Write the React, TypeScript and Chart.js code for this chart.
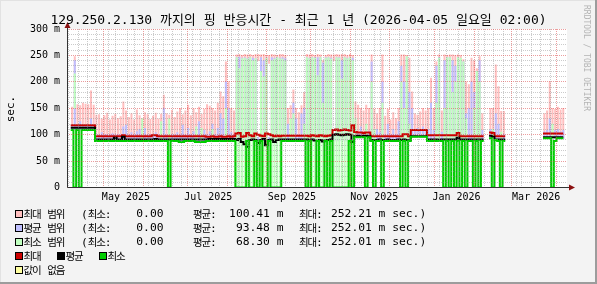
import React, { useEffect, useRef } from 'react';
import { Chart, registerables } from 'chart.js';

Chart.register(...registerables);

// ---- time axis: days since 2025-04-05 02:00 (1 year window), data in 2-day bins ----
const SPAN_DAYS = 365;
const BIN_DAYS = 2;
const HOUR_SHIFT = 2 / 24;

const monthStartDays = [26, 57, 87, 118, 149, 179, 210, 240, 271, 302, 330, 361];
const labelStartDays = [26, 87, 149, 210, 271, 330];
const monthLabels = ['May 2025', 'Jul 2025', 'Sep 2025', 'Nov 2025', 'Jan 2026', 'Mar 2026'];
const firstMondayDay = 2;
const yTickValues = [0, 50, 100, 150, 200, 250, 300];
const yTickLabels = ['0', '50 m', '100 m', '150 m', '200 m', '250 m', '300 m'];

// ---- line series (ms) ----
const maxLine = [
  118, 118, 118, 118, 118, 118, 118, 118, 118, 97,
  97, 97, 97, 97, 97, 97, 97, 97, 97, 99,
  97, 97, 97, 97, 97, 97, 97, 97, 97, 97,
  99, 99, 97, 97, 97, 97, 97, 97, 97, 97,
  97, 97, 97, 97, 97, 97, 97, 97, 97, 97,
  96, 96, 97, 96, 96, 97, 96, 96, 97, 96,
  97, 102, 103, 96, 97, 103, 99, 97, 102, 100,
  98, 97, 102, 101, 99, 97, 98, 97, 98, 98,
  98, 98, 98, 98, 98, 98, 98, 98, 97, 99,
  98, 97, 99, 98, 97, 98, 99, 109, 110, 108,
  109, 110, 109, 108, 118, 105, 104, 104, 103, 104,
  104, 97, 97, 97, 97, 97, 97, 97, 97, 97,
  97, 97, 97, 101, 101, 97, 109, 109, 109, 109,
  109, 109, 99, 99, 99, 99, 99, 99, 99, 99,
  99, 99, 99, 103, 97, 97, 97, 97, 97, 97,
  97, 97, 97, null, null, 104, 103, 97, 97, 97,
  97, null, null, null, null, null, null, null, null, null,
  null, null, null, null, null, 102, 102, 102, 102, 102,
  102, 102, 102,
];
const avgLine = [
  113, 113, 113, 113, 113, 113, 113, 113, 113, 91,
  91, 91, 91, 91, 91, 91, 94, 91, 91, 96,
  91, 91, 91, 91, 91, 91, 91, 91, 91, 91,
  91, 92, 91, 91, 91, 91, 91, 91, 91, 91,
  91, 91, 91, 91, 91, 91, 91, 91, 91, 91,
  91, 92, 92, 92, 92, 92, 92, 92, 92, 92,
  92, 90, 92, 86, 82, 77, 90, 91, 90, 84,
  90, 92, 80, 90, 91, 86, 90, 91, 91, 91,
  91, 91, 91, 91, 91, 91, 91, 91, 90, 91,
  89, 88, 90, 87, 89, 90, 91, 100, 101, 100,
  99, 100, 101, 100, 86, 97, 98, 97, 98, 98,
  97, 90, 90, 90, 91, 90, 90, 91, 90, 90,
  90, 91, 90, 91, 90, 90, 97, 97, 97, 97,
  97, 97, 91, 91, 91, 91, 90, 91, 91, 91,
  91, 91, 91, 94, 91, 91, 91, 91, 91, 91,
  91, 91, 91, null, null, 98, 96, 91, 91, 91,
  91, null, null, null, null, null, null, null, null, null,
  null, null, null, null, null, 95, 95, 95, 95, 95,
  95, 95, 95,
];
const minLine = [
  109, 0, 109, 0, 109, 109, 109, 109, 109, 88,
  88, 88, 88, 88, 88, 88, 88, 88, 88, 88,
  88, 88, 88, 88, 88, 88, 88, 88, 88, 88,
  88, 88, 88, 88, 88, 88, 0, 88, 88, 88,
  86, 86, 88, 88, 88, 88, 86, 86, 86, 86,
  88, 88, 88, 88, 88, 88, 88, 88, 88, 88,
  88, 0, 0, 0, 0, 88, 0, 0, 88, 0,
  88, 0, 0, 88, 0, 0, 0, 0, 88, 88,
  88, 88, 88, 88, 88, 88, 88, 0, 88, 0,
  0, 88, 0, 0, 88, 0, 88, 0, 0, 0,
  0, 0, 0, 88, 0, 95, 95, 95, 95, 0,
  95, 88, 0, 88, 88, 0, 88, 88, 88, 88,
  88, 88, 0, 88, 0, 88, 96, 96, 96, 96,
  96, 96, 88, 88, 88, 88, 88, 88, 0, 88,
  0, 88, 0, 88, 0, 88, 0, 88, 88, 0,
  88, 0, 88, null, null, 93, 0, 90, 88, 0,
  88, null, null, null, null, null, null, null, null, null,
  null, null, null, null, null, 93, 93, 93, 0, 88,
  93, 93, 93,
];

// ---- range bands (ms): low / high per bin ----
const pinkHigh = [
  152, 248, 157, 155, 160, 158, 157, 183, 156, 137,
  138, 130, 136, 141, 128, 135, 139, 131, 134, 162,
  145, 133, 140, 128, 147, 136, 131, 142, 138, 129,
  135, 141, 130, 139, 175, 140, 137, 146, 133, 143,
  150, 138, 145, 156, 136, 149, 142, 152, 139, 148,
  157, 154, 150, 145, 160, 181, 172, 238, 200, 150,
  145, 251, 252, 250, 252, 251, 252, 250, 252, 252,
  251, 252, 250, 250, 252, 251, 250, 252, 252, 250,
  150, 155, 185, 150, 142, 155, 180, 252, 251, 252,
  250, 252, 251, 240, 250, 252, 251, 251, 252, 251,
  252, 252, 250, 252, 250, 162, 156, 150, 145, 156,
  150, 251, 148, 140, 150, 251, 135, 148, 128, 142,
  131, 150, 251, 251, 250, 245, 181, 140, 137, 143,
  150, 145, 150, 207, 150, 238, 251, 145, 251, 250,
  251, 251, 250, 251, 250, 242, 200, 195, 245, 240,
  225, 248, 140, null, null, 150, 150, 232, 191, 144,
  144, null, null, null, null, null, null, null, null, null,
  null, null, null, null, null, 140, 145, 200, 150, 148,
  152, 147, 150,
];
const pinkLow = [
  109, 109, 109, 109, 109, 109, 109, 109, 109, 88,
  88, 88, 88, 88, 88, 88, 88, 88, 88, 88,
  88, 88, 88, 88, 88, 88, 88, 88, 88, 88,
  88, 88, 88, 88, 88, 88, 88, 88, 88, 88,
  88, 88, 88, 88, 88, 88, 88, 88, 88, 88,
  88, 88, 88, 88, 88, 88, 88, 88, 88, 88,
  88, 88, 88, 88, 88, 88, 88, 88, 88, 240,
  88, 88, 88, 235, 88, 88, 88, 88, 88, 88,
  88, 88, 88, 88, 88, 88, 88, 88, 88, 88,
  88, 88, 88, 88, 88, 88, 88, 240, 88, 88,
  88, 88, 88, 88, 88, 95, 95, 95, 95, 95,
  95, 88, 88, 88, 88, 88, 88, 88, 88, 88,
  88, 88, 88, 88, 88, 88, 96, 96, 96, 96,
  96, 96, 88, 88, 88, 88, 88, 88, 88, 88,
  88, 88, 88, 88, 88, 88, 88, 88, 88, 88,
  88, 88, 88, null, null, 93, 93, 88, 88, 88,
  88, null, null, null, null, null, null, null, null, null,
  null, null, null, null, null, 93, 93, 93, 93, 93,
  93, 93, 93,
];
const blueHigh = [
  118, 240, 118, 125, 118, 118, 118, 130, 118, 100,
  100, 104, 100, 100, 100, 102, 100, 100, 100, 115,
  118, 100, 104, 100, 106, 110, 100, 112, 100, 100,
  100, 104, 100, 100, 150, 100, 108, 100, 100, 104,
  100, 118, 100, 112, 100, 106, 100, 125, 100, 108,
  100, 106, 120, 100, 112, 140, 130, 200, 150, 104,
  100, 246, 247, 245, 246, 244, 246, 245, 244, 95,
  246, 240, 246, 95, 246, 245, 246, 245, 246, 244,
  120, 105, 160, 130, 100, 140, 150, 246, 245, 246,
  246, 246, 246, 236, 246, 246, 245, 100, 246, 246,
  240, 246, 245, 246, 245, 108, 105, 115, 105, 108,
  106, 238, 104, 110, 104, 200, 100, 120, 100, 110,
  100, 125, 230, 200, 246, 180, 150, 110, 112, 110,
  115, 110, 110, 160, 108, 230, 246, 105, 240, 246,
  246, 240, 230, 246, 240, 238, 140, 150, 200, 180,
  215, 240, 108, null, null, 110, 108, 140, 120, 100,
  100, null, null, null, null, null, null, null, null, null,
  null, null, null, null, null, 106, 108, 130, 106, 108,
  110, 106, 108,
];
const blueLow = [
  109, 109, 109, 109, 109, 109, 109, 109, 109, 88,
  88, 88, 88, 88, 88, 88, 88, 88, 88, 88,
  88, 88, 88, 88, 88, 88, 88, 88, 88, 88,
  88, 88, 88, 88, 88, 88, 88, 88, 88, 88,
  88, 88, 88, 88, 88, 88, 88, 88, 88, 88,
  88, 88, 88, 88, 88, 88, 88, 88, 88, 88,
  88, 88, 88, 88, 88, 88, 88, 88, 88, 88,
  88, 88, 88, 88, 88, 88, 88, 88, 88, 88,
  88, 88, 88, 88, 88, 88, 88, 88, 88, 88,
  88, 88, 88, 88, 88, 88, 88, 88, 88, 88,
  88, 88, 88, 88, 88, 95, 95, 95, 95, 95,
  95, 88, 88, 88, 88, 88, 88, 88, 88, 88,
  88, 88, 88, 88, 88, 88, 96, 96, 96, 96,
  96, 96, 88, 88, 88, 88, 88, 88, 88, 88,
  88, 88, 88, 88, 88, 88, 88, 88, 88, 88,
  88, 88, 88, null, null, 93, 93, 88, 88, 88,
  88, null, null, null, null, null, null, null, null, null,
  null, null, null, null, null, 93, 93, 93, 93, 93,
  93, 93, 93,
];
const greenHigh = [
  null, 215, null, null, null, null, null, null, null, null,
  null, null, null, null, null, null, null, null, null, null,
  null, null, null, null, null, null, 130, null, null, null,
  null, null, null, 125, null, null, 130, null, null, null,
  null, null, null, null, null, null, 115, null, 112, null,
  null, null, 110, null, null, null, null, 150, null, null,
  null, 246, 225, 244, 245, 243, 246, 240, 244, 88,
  220, 210, 245, null, 240, 243, 246, 244, 243, 240,
  null, 130, 140, null, null, null, 120, 246, 244, 246,
  245, 212, 246, 160, 245, 246, 243, 100, 246, 245,
  205, 246, 244, 246, 240, 130, null, null, null, 120,
  null, 200, 110, null, null, 160, null, null, null, null,
  null, null, 200, 150, 248, 120, null, null, null, null,
  null, null, null, null, null, 160, 245, null, 150, 246,
  246, 180, 200, 246, 245, 238, 130, null, null, 150,
  220, 200, null, null, null, null, 110, null, null, 105,
  null, null, null, null, null, null, null, null, null, null,
  null, null, null, null, null, null, null, null, 120, null,
  null, null, null,
];
const greenLow = [
  null, 150, null, null, null, null, null, null, null, null,
  null, null, null, null, null, null, null, null, null, null,
  null, null, null, null, null, null, 88, null, null, null,
  null, null, null, 88, null, null, 0, null, null, null,
  null, null, null, null, null, null, 88, null, 88, null,
  null, null, 88, null, null, null, null, 88, null, null,
  null, 0, 0, 0, 0, 0, 0, 0, 0, 0,
  0, 0, 0, null, 0, 0, 0, 0, 88, 88,
  null, 88, 88, null, null, null, 88, 0, 0, 0,
  0, 0, 0, 0, 0, 0, 0, 0, 0, 0,
  0, 0, 0, 0, 0, 95, null, null, null, 0,
  null, 88, 0, null, null, 0, null, null, null, null,
  null, null, 0, 88, 0, 88, null, null, null, null,
  null, null, null, null, null, 88, 88, null, 0, 88,
  0, 88, 0, 88, 0, 88, 0, null, null, 0,
  88, 0, null, null, null, null, 0, null, null, 0,
  null, null, null, null, null, null, null, null, null, null,
  null, null, null, null, null, null, null, null, 0, null,
  null, null, null,
];

// ---- legend ----
const legendRanges = [
  { name: ['최대', '범위'], min: '0.00', avg: '100.41 m', max: '252.21 m' },
  { name: ['평균', '범위'], min: '0.00', avg: '93.48 m', max: '252.01 m' },
  { name: ['최소', '범위'], min: '0.00', avg: '68.30 m', max: '252.01 m' },
];
const legendLineNames = ['최대', '평균', '최소'];
const legendUnknown = ['값이', '없음'];

const PINK = '#ffbfbf';
const BLUE = '#bfbfff';
const LGREEN = '#bfffbf';
const RED = '#cc0000';
const BLACK = '#000000';
const GREEN = '#00cc00';
const YELLOW = '#ffffa0';
const MINOR = 'rgba(140,140,140,0.45)';
const MAJOR = 'rgba(215,60,60,0.5)';
const MONO = "'DejaVu Sans Mono', monospace";
const KR = "'Noto Sans CJK KR', sans-serif";

function rangeData(lo: (number | null)[], hi: (number | null)[]) {
  return hi.map((h, i) => ({
    x: i * BIN_DAYS + BIN_DAYS / 2,
    y: h === null || lo[i] === null ? null : [lo[i] as number, h],
  }));
}

function stepData(values: (number | null)[]) {
  const pts: { x: number; y: number | null }[] = [];
  values.forEach((v, i) => {
    const x0 = i * BIN_DAYS;
    const x1 = Math.min((i + 1) * BIN_DAYS, SPAN_DAYS);
    if (v === null) {
      pts.push({ x: x0 + BIN_DAYS / 2, y: null });
    } else {
      pts.push({ x: x0, y: v }, { x: x1, y: v });
    }
  });
  return pts;
}

type XTick = { value: number; week: boolean; month: boolean; label: string };
function buildXTicks(): XTick[] {
  const m = new Map<string, XTick>();
  const add = (d: number, kind: 'week' | 'month' | 'label', label = '') => {
    const v = d - HOUR_SHIFT;
    const k = v.toFixed(4);
    const t = m.get(k) || { value: v, week: false, month: false, label: '' };
    if (kind === 'week') t.week = true;
    if (kind === 'month') t.month = true;
    if (kind === 'label') t.label = label;
    m.set(k, t);
  };
  for (let d = firstMondayDay; d < SPAN_DAYS; d += 7) add(d, 'week');
  monthStartDays.forEach((d) => add(d, 'month'));
  labelStartDays.forEach((d, i) => add(d + 15, 'label', monthLabels[i]));
  return Array.from(m.values()).sort((a, b) => a.value - b.value);
}

const framePlugin = {
  id: 'rrdFrame',
  beforeDraw(chart: any) {
    const { ctx, chartArea: a } = chart;
    ctx.save();
    ctx.fillStyle = '#ffffff';
    ctx.fillRect(a.left, a.top, a.right - a.left, a.bottom - a.top);
    ctx.restore();
  },
  afterDraw(chart: any) {
    const { ctx, chartArea: a } = chart;
    const x0 = Math.round(a.left) + 0.5;
    const y0 = Math.floor(a.bottom) + 0.5;
    ctx.save();
    ctx.strokeStyle = '#333333';
    ctx.lineWidth = 1;
    ctx.beginPath();
    ctx.moveTo(x0, y0);
    ctx.lineTo(a.right + 5, y0);
    ctx.moveTo(x0, y0);
    ctx.lineTo(x0, a.top - 4);
    ctx.stroke();
    ctx.fillStyle = '#8b1010';
    ctx.beginPath();
    ctx.moveTo(x0, a.top - 7);
    ctx.lineTo(x0 - 3, a.top - 1);
    ctx.lineTo(x0 + 3, a.top - 1);
    ctx.closePath();
    ctx.fill();
    ctx.beginPath();
    ctx.moveTo(a.right + 8, y0);
    ctx.lineTo(a.right + 2, y0 - 3);
    ctx.lineTo(a.right + 2, y0 + 3);
    ctx.closePath();
    ctx.fill();
    ctx.restore();
  },
};

const K = ({ children, size, ls }: { children: React.ReactNode; size: number; ls?: number }) => (
  <span style={{ fontFamily: KR, fontSize: size, letterSpacing: ls ?? 0 }}>{children}</span>
);
const LK = ({ children }: { children: React.ReactNode }) => <K size={10.5} ls={-1.2}>{children}</K>;

const rowCenters = [214, 227.5, 241.5, 255.5, 269.5];

function Sq({ x, y, color }: { x: number; y: number; color: string }) {
  return (
    <div
      style={{
        position: 'absolute', left: x, top: y - 4, width: 8, height: 8,
        background: color, border: '1px solid #000', boxSizing: 'border-box',
      }}
    />
  );
}

function Txt({ x, y, children, right }: { x: number; y: number; children: React.ReactNode; right?: boolean }) {
  const style: React.CSSProperties = {
    position: 'absolute', top: y - 7, height: 14, lineHeight: '14px',
    fontFamily: MONO, fontSize: 11.3, color: '#000', whiteSpace: 'pre',
  };
  if (right) {
    style.left = x - 80;
    style.width = 80;
    style.textAlign = 'right';
  } else {
    style.left = x;
  }
  return <div style={style}>{children}</div>;
}

export default function App() {
  const ref = useRef<HTMLCanvasElement>(null);

  useEffect(() => {
    const canvas = ref.current;
    if (!canvas) return;
    const xTicks = buildXTicks();
    const bar = (lo: any, hi: any, color: string, order: number) => ({
      type: 'bar' as const,
      data: rangeData(lo, hi),
      backgroundColor: color,
      borderWidth: 0,
      grouped: false,
      barPercentage: 1,
      categoryPercentage: 1,
      order,
    });
    const line = (vals: any, color: string, order: number) => ({
      type: 'line' as const,
      data: stepData(vals),
      borderColor: color,
      borderWidth: 2,
      pointRadius: 0,
      tension: 0,
      spanGaps: false,
      fill: false,
      order,
    });
    const chart = new Chart(canvas, {
      type: 'bar',
      data: {
        datasets: [
          line(minLine, GREEN, 0),
          line(avgLine, BLACK, 1),
          line(maxLine, RED, 2),
          bar(greenLow, greenHigh, LGREEN, 3),
          bar(blueLow, blueHigh, BLUE, 4),
          bar(pinkLow, pinkHigh, PINK, 5),
        ] as any,
      },
      options: {
        responsive: false,
        animation: false,
        events: [],
        layout: { padding: { top: 29, right: 30, left: 0, bottom: 0 } },
        plugins: { legend: { display: false }, tooltip: { enabled: false }, title: { display: false } },
        scales: {
          x: {
            type: 'linear',
            min: 0,
            max: SPAN_DAYS,
            afterBuildTicks: (axis: any) => {
              axis.ticks = xTicks.map((t) => ({ value: t.value }));
            },
            afterFit: (s: any) => {
              s.height = 96.5;
            },
            ticks: {
              autoSkip: false,
              maxRotation: 0,
              minRotation: 0,
              padding: 4,
              color: '#000',
              font: { family: MONO, size: 10 },
              callback: (_v: any, i: number) => xTicks[i]?.label ?? '',
            },
            grid: {
              z: 1,
              drawTicks: false,
              lineWidth: 1,
              color: (c: any) => {
                const t = xTicks[c.index];
                if (!t) return 'transparent';
                if (t.month) return MAJOR;
                if (t.week) return MINOR;
                return 'transparent';
              },
            },
            border: { display: false, dash: [1, 1] },
          },
          y: {
            min: 0,
            max: 300,
            afterBuildTicks: (axis: any) => {
              const t = [];
              for (let v = 0; v <= 300; v += 10) t.push({ value: v });
              axis.ticks = t;
            },
            afterFit: (s: any) => {
              s.width = 67;
            },
            ticks: {
              autoSkip: false,
              padding: 7,
              color: '#000',
              font: { family: MONO, size: 10 },
              callback: (v: any) => {
                const k = yTickValues.indexOf(Number(v));
                return k >= 0 ? yTickLabels[k] : '';
              },
            },
            grid: {
              z: 1,
              drawTicks: false,
              lineWidth: 1,
              color: (c: any) => (c.tick && c.tick.value % 50 === 0 ? MAJOR : MINOR),
            },
            border: { display: false, dash: [1, 1] },
          },
        },
      } as any,
      plugins: [framePlugin],
    });
    return () => chart.destroy();
  }, []);

  const lineColors = [RED, BLACK, GREEN];
  const rangeColors = [PINK, BLUE, LGREEN];

  return (
    <div
      style={{
        position: 'fixed', left: 0, top: 0, width: 597, height: 284,
        background: '#f3f3f3', overflow: 'hidden',
      }}
    >
      <canvas ref={ref} width={597} height={284} style={{ position: 'absolute', left: 0, top: 0, width: 597, height: 284 }} />
      {/* frame shading */}
      <div style={{ position: 'absolute', left: 0, top: 0, width: 597, height: 1, background: '#e2e2e2' }} />
      <div style={{ position: 'absolute', left: 0, top: 0, width: 1, height: 284, background: '#e2e2e2' }} />
      <div style={{ position: 'absolute', left: 0, top: 282, width: 597, height: 2, background: '#9c9c9c' }} />
      <div style={{ position: 'absolute', left: 595, top: 0, width: 2, height: 284, background: '#9c9c9c' }} />

      {/* title */}
      <div
        style={{
          position: 'absolute', left: 0, top: 10, width: 597, textAlign: 'center',
          fontFamily: MONO, fontSize: 13, lineHeight: '18px', whiteSpace: 'pre', color: '#000',
        }}
      >
        {'129.250.2.130 '}<K size={13}>까지의</K>{' '}<K size={13}>핑</K>{' '}<K size={13}>반응시간</K>{' - '}
        <K size={13}>최근</K>{' 1 '}<K size={13}>년</K>{' (2026-04-05 '}<K size={13}>일요일</K>{' 02:00)'}
      </div>

      {/* y axis unit */}
      <div
        style={{
          position: 'absolute', left: 11 - 20, top: 108.5 - 7, width: 40, height: 14, lineHeight: '14px',
          textAlign: 'center', fontFamily: MONO, fontSize: 11, transform: 'rotate(-90deg)', color: '#000',
        }}
      >
        sec.
      </div>

      {/* side credit */}
      <div
        style={{
          position: 'absolute', left: 582, top: 5, writingMode: 'vertical-rl', fontFamily: MONO,
          fontSize: 8, lineHeight: '9px', color: '#b4b4b4', whiteSpace: 'pre',
        }}
      >
        RRDTOOL / TOBI OETIKER
      </div>

      {/* legend */}
      {legendRanges.map((r, i) => {
        const y = rowCenters[i];
        return (
          <React.Fragment key={r.name.join(' ')}>
            <Sq x={15} y={y} color={rangeColors[i]} />
            <Txt x={23.5} y={y}><LK>{r.name[0]}</LK>{' '}<LK>{r.name[1]}</LK></Txt>
            <Txt x={81} y={y}>{'('}<LK>최소</LK>{':'}</Txt>
            <Txt x={163.5} y={y} right>{r.min}</Txt>
            <Txt x={193} y={y}><LK>평균</LK>{':'}</Txt>
            <Txt x={283.5} y={y} right>{r.avg}</Txt>
            <Txt x={299} y={y}><LK>최대</LK>{':'}</Txt>
            <Txt x={331} y={y}>{r.max + ' sec.)'}</Txt>
          </React.Fragment>
        );
      })}
      {legendLineNames.map((n, i) => (
        <React.Fragment key={n}>
          <Sq x={15 + i * 42} y={rowCenters[3]} color={lineColors[i]} />
          <Txt x={23.5 + i * 42} y={rowCenters[3]}><LK>{n}</LK></Txt>
        </React.Fragment>
      ))}
      <Sq x={15} y={rowCenters[4]} color={YELLOW} />
      <Txt x={23.5} y={rowCenters[4]}><LK>{legendUnknown[0]}</LK>{' '}<LK>{legendUnknown[1]}</LK></Txt>
    </div>
  );
}
